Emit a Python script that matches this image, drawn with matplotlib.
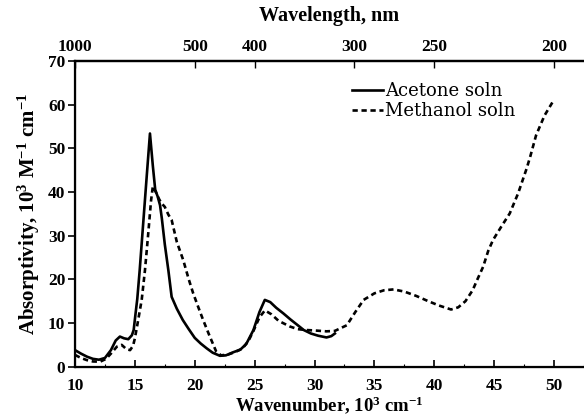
import matplotlib
matplotlib.use("Agg")
import matplotlib.pyplot as plt
import numpy as np
from matplotlib.ticker import MultipleLocator

# wavenumber in 10^3 cm^-1, absorptivity in 10^3 M^-1 cm^-1
acetone_k = [10.0, 10.5, 11.0, 11.5, 12.0, 12.5, 13.0, 13.4, 13.75, 14.1,
             14.45, 14.75, 14.9, 15.05, 15.2, 15.4, 15.7, 16.0, 16.26, 16.5,
             16.7, 16.9, 17.1, 17.25, 17.5, 17.8, 18.07, 18.5, 19.0, 19.5,
             20.0, 20.5, 21.0, 21.5, 22.1, 22.6, 23.2, 23.8, 24.3, 24.9,
             25.4, 25.85, 26.3, 26.8, 27.4, 28.0, 28.6, 29.1, 29.7, 30.3,
             31.0, 31.4, 31.7]
acetone_abs = [3.8, 3.0, 2.3, 1.8, 1.6, 2.0, 3.8, 6.0, 6.9, 6.5,
               6.3, 7.2, 8.4, 12.0, 15.5, 22.0, 33.0, 44.0, 53.4, 46.0,
               40.5, 39.0, 37.0, 34.0, 28.0, 22.0, 16.0, 13.3, 10.7, 8.6,
               6.6, 5.3, 4.2, 3.2, 2.5, 2.6, 3.3, 3.9, 5.2, 8.4,
               12.5, 15.3, 14.8, 13.5, 12.2, 10.8, 9.5, 8.4, 7.6, 7.1,
               6.7, 7.0, 7.6]

methanol_k = [10.0, 10.5, 11.0, 11.5, 12.1, 12.6, 13.0, 13.5, 13.9, 14.3,
              14.6, 14.85, 15.0, 15.2, 15.57, 15.84, 16.1, 16.35, 16.5, 16.75,
              17.0, 17.2, 17.5, 17.8, 18.07, 18.5, 19.04, 19.5, 19.87, 20.3,
              20.7, 21.2, 21.8, 22.2, 22.8, 23.4, 24.0, 24.5, 24.9, 25.4,
              25.86, 26.4, 27.0, 27.95, 28.6, 29.3, 30.0, 31.0, 31.7, 32.7,
              33.4, 34.1, 35.0, 35.8, 36.6, 37.5, 38.5, 39.5, 40.4, 41.4,
              42.0, 42.6, 43.2, 43.6, 44.08, 44.5, 44.9, 45.6, 46.3, 47.0,
              47.7, 48.0, 48.5, 49.2, 49.9]
methanol_abs = [2.7, 2.0, 1.5, 1.2, 1.15, 1.8, 3.0, 4.6, 5.0, 4.0,
                3.8, 4.8, 6.5, 9.5, 15.3, 22.0, 30.0, 38.0, 41.3, 40.0,
                38.5, 37.5, 36.6, 34.8, 33.6, 28.6, 24.4, 20.0, 16.8, 13.6,
                10.7, 7.3, 3.4, 2.6, 2.8, 3.4, 4.2, 6.0, 8.2, 11.3,
                12.9, 12.0, 10.5, 9.2, 8.6, 8.4, 8.3, 8.1, 8.2, 9.5,
                12.5, 15.3, 16.8, 17.5, 17.7, 17.2, 16.2, 15.0, 14.0, 13.1,
                13.6, 15.0, 17.5, 20.0, 22.9, 26.5, 29.0, 32.1, 35.1, 39.7,
                45.3, 48.0, 53.0, 57.5, 60.7]

nm_ticks = [1000, 500, 400, 300, 250, 200]
y_ticks = [0, 10, 20, 30, 40, 50, 60, 70]
x_ticks = [10, 15, 20, 25, 30, 35, 40, 45, 50]

plt.rcParams["font.family"] = "Liberation Serif"
plt.rcParams["font.weight"] = "bold"
plt.rcParams["mathtext.fontset"] = "custom"
plt.rcParams["mathtext.rm"] = "Liberation Serif:bold"
plt.rcParams["mathtext.it"] = "Liberation Serif:bold"
plt.rcParams["mathtext.bf"] = "Liberation Serif:bold"

fig = plt.figure(figsize=(5.84, 4.19), dpi=100)
ax = fig.add_axes([0.1284, 0.1248, 0.8716, 0.7296])

ax.plot(acetone_k, acetone_abs, color="black", lw=1.9, label="Acetone soln")
ax.plot(methanol_k, methanol_abs, color="black", lw=1.9, dashes=(2.0, 1.4),
        label="Methanol soln")

ax.set_xlim(10, 52.5)
ax.set_ylim(0, 70)
ax.set_xticks(x_ticks)
ax.set_yticks(y_ticks)
ax.xaxis.set_minor_locator(MultipleLocator(2.5))
ax.tick_params(axis="x", direction="in", length=5, width=1.2, labelsize=12.5, pad=8)
ax.tick_params(axis="x", which="minor", direction="in", length=2, width=0.8)
ax.tick_params(axis="y", direction="out", length=5, width=1.2, labelsize=12.5, pad=2)
for lab in ax.get_xticklabels() + ax.get_yticklabels():
    lab.set_fontweight("bold")

ax.spines["right"].set_visible(False)
for s in ["left", "bottom", "top"]:
    ax.spines[s].set_linewidth(1.6)

ax.set_xlabel(r"Wavenumber, 10$^{3}$ cm$^{-1}$", fontsize=13.5, fontweight="bold",
              labelpad=0)
ax.set_ylabel(r"Absorptivity, 10$^{3}$ M$^{-1}$ cm$^{-1}$", fontsize=15,
              fontweight="bold", labelpad=4)

# top wavelength axis
ax2 = ax.twiny()
ax2.set_xlim(ax.get_xlim())
ax2.set_xticks([1e4 / w for w in nm_ticks])
ax2.set_xticklabels([str(w) for w in nm_ticks], fontweight="bold")
ax2.tick_params(axis="x", direction="in", length=5, width=1.0, labelsize=12.5, pad=4)
ax2.spines["right"].set_visible(False)
ax2.spines["top"].set_linewidth(1.6)
ax2.set_xlabel("Wavelength, nm", fontsize=14.5, fontweight="bold", labelpad=13)

leg = ax.legend(loc="upper left", bbox_to_anchor=(0.545, 0.93), frameon=False,
                borderaxespad=0, borderpad=0, handlelength=1.7, handletextpad=0.12,
                labelspacing=0.1, prop={"family": "DejaVu Serif", "size": 13,
                                        "weight": "normal"})

fig.savefig("out.png", dpi=100)
